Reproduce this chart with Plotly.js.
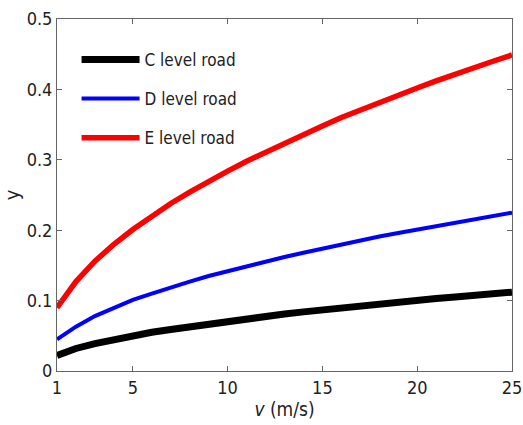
<!DOCTYPE html>
<html>
<head>
<meta charset="utf-8">
<script src="https://cdn.plot.ly/plotly-3.0.1.min.js"></script>
<style>html,body{margin:0;padding:0;background:#fff;}#chart{width:523px;height:425px;}</style>
</head>
<body>
<div id="chart"></div>
<script>
var v = [1,2,3,4,5,6,7,8,9,10,11,12,13,14,15,16,17,18,19,20,21,22,23,24,25];
var yC = [0.022,0.032,0.039,0.045,0.050,0.055,0.059,0.063,0.067,0.071,0.074,0.078,0.081,0.084,0.087,0.090,0.093,0.095,0.098,0.100,0.103,0.105,0.108,0.110,0.112];
var yD = [0.045,0.063,0.078,0.090,0.101,0.110,0.119,0.127,0.135,0.142,0.149,0.156,0.162,0.168,0.174,0.180,0.186,0.191,0.196,0.201,0.206,0.211,0.216,0.220,0.225];
var yE = [0.090,0.127,0.156,0.180,0.201,0.220,0.238,0.254,0.270,0.284,0.298,0.311,0.324,0.336,0.348,0.360,0.371,0.382,0.392,0.402,0.412,0.422,0.431,0.440,0.449];
var names = ["C level road","D level road","E level road"];
var xTicks = [1,5,10,15,20,25];
var yTicks = [0,0.1,0.2,0.3,0.4,0.5];
var yTickText = ["0","0.1","0.2","0.3","0.4","0.5"];

var fam = "DejaVu Sans Condensed, DejaVu Sans, sans-serif";
var traces = [
  {x:v, y:yC, name:names[0], legendgroup:"c", mode:"lines", line:{color:"#000000", width:7}},
  {x:v, y:yD, name:names[1], legendgroup:"d", mode:"lines", line:{color:"#0000ff", width:4}},
  {x:v, y:yE, name:names[2], legendgroup:"e", mode:"lines", line:{color:"#ff0000", width:5.5}}
];
var axisCommon = {
  showgrid:false, zeroline:false, showline:true, linecolor:"#666", linewidth:1,
  mirror:"ticks", ticks:"inside", ticklen:5, tickcolor:"#666",
  tickfont:{family:fam, size:18, color:"#222"}
};
var layout = {
  width:523, height:425,
  margin:{l:57, r:11, t:19, b:54},
  paper_bgcolor:"#fff", plot_bgcolor:"#fff",
  showlegend:true,
  legend:{x:0.043, y:0.935, xanchor:"left", yanchor:"top", bgcolor:"rgba(0,0,0,0)",
          font:{family:fam, size:17, color:"#222"}, tracegroupgap:14, itemwidth:58},
  xaxis:Object.assign({}, axisCommon, {range:[1,25], tickvals:xTicks,
    title:{text:"<i>v</i> (m/s)", font:{family:fam, size:19, color:"#222"}, standoff:3}}),
  yaxis:Object.assign({}, axisCommon, {range:[0,0.5], tickvals:yTicks, ticktext:yTickText,
    title:{text:"y", font:{family:fam, size:20, color:"#222"}, standoff:8}})
};
Plotly.newPlot("chart", traces, layout, {staticPlot:true, displayModeBar:false});
</script>
</body>
</html>
